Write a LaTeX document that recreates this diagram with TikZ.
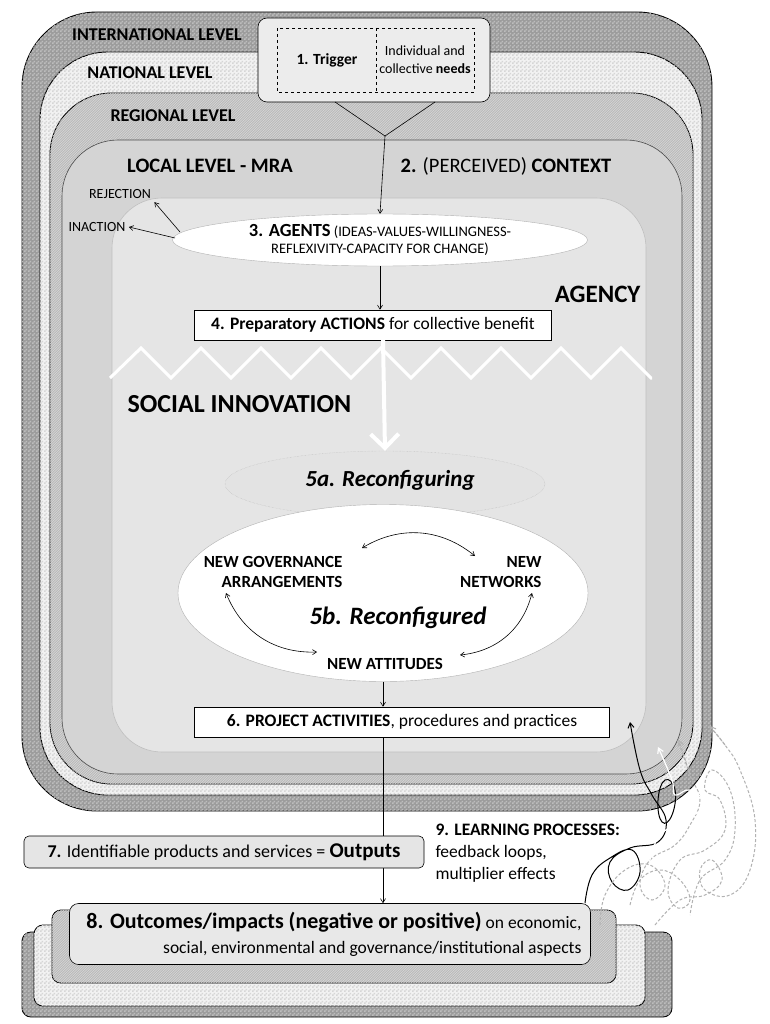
\documentclass[tikz,border=0pt]{standalone}
\usepackage{fontspec}
\setmainfont{Carlito}
\usetikzlibrary{patterns,arrows.meta,shapes.geometric}
\pgfdeclarepatternformonly{mychk}{\pgfpointorigin}{\pgfqpoint{4pt}{4pt}}{\pgfqpoint{4pt}{4pt}}{%
  \pgfpathrectangle{\pgfpointorigin}{\pgfqpoint{2pt}{2pt}}%
  \pgfpathrectangle{\pgfqpoint{2pt}{2pt}}{\pgfqpoint{2pt}{2pt}}%
  \pgfusepath{fill}}
\pgfdeclarepatternformonly{myhatch}{\pgfqpoint{-1pt}{-1pt}}{\pgfqpoint{3pt}{3pt}}{\pgfqpoint{2.5pt}{2.5pt}}{%
  \pgfsetlinewidth{0.5pt}%
  \pgfpathmoveto{\pgfqpoint{0pt}{0pt}}\pgfpathlineto{\pgfqpoint{2.6pt}{2.6pt}}%
  \pgfusepath{stroke}}
\begin{document}
\begin{tikzpicture}[x=1pt,y=-1pt,
  band/.style={draw=black,line width=0.9pt},
  intl/.style={band,fill=gray!78,postaction={pattern=mychk,pattern color=gray!52}},
  natl/.style={band,fill=gray!10,postaction={pattern=mychk,pattern color=gray!32}},
  regl/.style={band,fill=gray!55,postaction={pattern=myhatch,pattern color=gray!28}},
  locl/.style={draw=gray!60!black,line width=0.6pt,fill=gray!34},
  innr/.style={draw=gray!50,line width=0.6pt,fill=gray!20},
  lvl/.style={font=\bfseries\fontsize{18}{20}\selectfont},
  wbox/.style={draw=black,fill=white,line width=0.6pt,inner sep=3pt},
  arr/.style={-{Straight Barb[length=4pt,width=5pt]},line width=0.6pt},
  darr/.style={{Straight Barb[length=4pt,width=5pt]}-{Straight Barb[length=4pt,width=5pt]},line width=0.6pt},
  nt/.style={font=\bfseries\fontsize{17}{20}\selectfont,align=center},
  gloop/.style={draw=gray!60,densely dashed,line width=1pt},
]
\useasboundingbox (0,0) rectangle (769,1024);
\fill[white] (0,0) rectangle (769,1024);
% levels
\path[intl,rounded corners=75] (22,12) rectangle (712,811);
\path[natl,rounded corners=68] (40,52) rectangle (702,795);
\path[regl,rounded corners=62] (50,93) rectangle (693,784);
\path[locl,rounded corners=56] (62,140) rectangle (682,774);
\path[innr,rounded corners=50] (112,198) rectangle (646,752);
\node[lvl] (tint) at (157,35) {INTERNATIONAL LEVEL};
\node[lvl] (tnat) at (150,73) {NATIONAL LEVEL};
\node[lvl] (treg) at (173,116) {REGIONAL LEVEL};
\node[font=\bfseries\fontsize{20.5}{22}\selectfont] (tloc) at (210,166) {LOCAL LEVEL - MRA};
\node[font=\fontsize{20.5}{22}\selectfont] (tctx) at (506,166) {\textbf{2.} (PERCEIVED) \textbf{CONTEXT}};
% trigger
\node[draw=black,fill=gray!15,rounded corners=9,minimum width=232pt,minimum height=84pt,line width=0.6pt] (trig) at (374,60) {};
\draw[dashed,line width=0.5pt] (277,28) rectangle (474,92);
\draw[dashed,line width=0.5pt] (376,28) -- (376,92);
\node[font=\bfseries\fontsize{15.5}{18}\selectfont] (t1) at (327,60) {1. Trigger};
\node[font=\fontsize{14}{18}\selectfont,align=center] (t1b) at (425,60) {Individual and\\collective \textbf{needs}};
\coordinate (tl) at (335,102);
\coordinate (tr) at (435,102);
\coordinate (tm) at (385,136);
\draw[line width=0.6pt] (tl) -- (tm) -- (tr);
% agents
\node[ellipse,draw=gray!60,fill=white,minimum width=415pt,minimum height=52pt,inner sep=0pt] (ag) at (380,240) {};
\node[font=\fontsize{14.5}{17}\selectfont,align=center] (agt) at (380,240) {{\bfseries\fontsize{18.5}{17}\selectfont 3. AGENTS} (IDEAS-VALUES-WILLINGNESS-\\REFLEXIVITY-CAPACITY FOR CHANGE)};
\draw[arr] (tm) -- (ag.north);
\node[font=\fontsize{14}{16}\selectfont] (rej) at (120,194) {REJECTION};
\node[font=\fontsize{14}{16}\selectfont] (ina) at (97,227) {INACTION};
\coordinate (ag1) at (180,232);
\coordinate (ag2) at (175,238);
\draw[arr] (ag1) -- (rej.south east);
\draw[arr] (ag2) -- (ina.east);
\node[font=\bfseries\fontsize{25}{27}\selectfont,anchor=east] (agency) at (644,294) {AGENCY};
% actions
\node[wbox,minimum width=357pt,minimum height=30pt,font=\fontsize{17.5}{19}\selectfont] (act) at (373,325) {\textbf{4. Preparatory ACTIONS} for collective benefit};
\draw[arr] (ag.south) -- (act.north -| ag.south);
% zigzag
\draw[white,line width=3pt,line join=miter] (110,378)
  \foreach \i in {0,...,8} { -- ({141+60*\i},348) -- ({171+60*\i},378) } -- (652,378);
\node[font=\bfseries\fontsize{26}{28}\selectfont,anchor=west] (si) at (124,404) {SOCIAL INNOVATION};
% 5a
\node[ellipse,draw=gray!55,densely dotted,fill=gray!22,minimum width=320pt,minimum height=66pt] (r5a) at (385,484) {};
\coordinate (bigs) at (383,340);
\draw[white,line width=4pt,-{Straight Barb[length=14pt,width=28pt,line width=4pt]}] (bigs) -- (r5a.north);
% 5b
\node[ellipse,draw=gray!60,fill=white,minimum width=410pt,minimum height=177pt] (r5b) at (383,593) {};
\node[font=\bfseries\itshape\fontsize{23}{25}\selectfont] (t5a) at (390,480) {5a. Reconfiguring};
\node[nt,align=right,anchor=east] (gov) at (346,572) {NEW GOVERNANCE\\ARRANGEMENTS};
\node[nt,align=right,anchor=east] (net) at (545,572) {NEW\\NETWORKS};
\node[font=\bfseries\itshape\fontsize{25}{27}\selectfont] (t5b) at (398,618) {5b. Reconfigured};
\node[nt] (att) at (385,664) {NEW ATTITUDES};
\coordinate (a1) at (362,548); \coordinate (a2) at (475,556);
\draw[darr] (a1) to[bend left=35] (a2);
\coordinate (b1) at (226,593); \coordinate (b2) at (317,652);
\draw[darr] (b1) to[bend right=35] (b2);
\coordinate (c1) at (532,593); \coordinate (c2) at (460,655);
\draw[darr] (c1) to[bend left=35] (c2);
% 6
\node[wbox,minimum width=415pt,minimum height=30pt,font=\fontsize{17.5}{19}\selectfont] (p6) at (402,722) {\textbf{6. PROJECT ACTIVITIES}, procedures and practices};
\draw[arr] (r5b.south) -- (p6.north -| r5b.south);
% 8 stack
\path[intl,rounded corners=9] (22,932) rectangle (672,1017);
\path[natl,rounded corners=9] (34,925) rectangle (645,1006);
\path[regl,rounded corners=9] (52,910) rectangle (616,983);
\node[draw=black,fill=gray!18,rounded corners=9,minimum width=521pt,minimum height=61pt,line width=0.6pt] (o8) at (330,934) {};
\node[font=\fontsize{17.5}{25}\selectfont,align=right,anchor=east] (o8t) at (585,934) {{\bfseries\fontsize{22}{25}\selectfont 8. Outcomes/impacts (negative or positive)} on economic,\\social, environmental and governance/institutional aspects};
\draw[arr] (p6.south -| r5b.south) -- (o8.north -| r5b.south);
% 7
\node[draw=black,fill=gray!20,rounded corners=5,minimum width=400pt,minimum height=32pt,line width=0.6pt,font=\fontsize{18}{20}\selectfont] (o7) at (224,852) {\textbf{7.} Identifiable products and services = {\bfseries\fontsize{21}{20}\selectfont Outputs}};
\node[font=\fontsize{17.5}{22}\selectfont,align=left,anchor=north west] (l9) at (432,820) {{\bfseries 9. LEARNING PROCESSES:}\\feedback loops,\\multiplier effects};
% loops
\draw[line width=1pt,-{Straight Barb[length=5pt,width=6pt]}] plot[smooth,tension=0.7] coordinates {(585,903) (592,875) (610,858) (632,850) (640,872) (628,890) (612,882) (610,862) (630,848) (658,842) (666,820) (652,795) (640,770) (630,722)};
\draw[line width=1pt] plot[smooth cycle,tension=0.8] coordinates {(658,800) (665,780) (675,790) (672,815) (662,822)};
\draw[gloop] plot[smooth,tension=0.7] coordinates {(600,925) (605,895) (625,870) (650,865) (665,885) (652,900) (640,885) (650,860) (675,845) (690,825) (700,800) (690,775) (678,740)};
\draw[gloop,-{Straight Barb[length=5pt,width=6pt]}] (690,775) -- (679,740);
\draw[gloop] plot[smooth,tension=0.7] coordinates {(630,905) (640,880) (660,870) (680,880) (690,900) (678,908) (668,890) (680,860) (705,850) (725,830) (720,800) (705,790) (712,770) (730,790) (735,830) (725,860) (700,880) (690,915)};
\draw[gloop] plot[smooth,tension=0.7] coordinates {(655,925) (680,900) (705,895) (722,880) (712,860) (700,870) (705,890) (730,895) (750,870) (755,820) (740,770) (725,745) (710,727)};
\draw[gloop,-{Straight Barb[length=5pt,width=6pt]}] (725,745) -- (710,726);
\draw[white,line width=1.2pt,-{Straight Barb[length=5pt,width=6pt]}] plot[smooth,tension=0.7] coordinates {(650,860) (660,835) (685,820) (705,805) (690,790) (675,795) (672,780) (658,747)};
\end{tikzpicture}
\end{document}
